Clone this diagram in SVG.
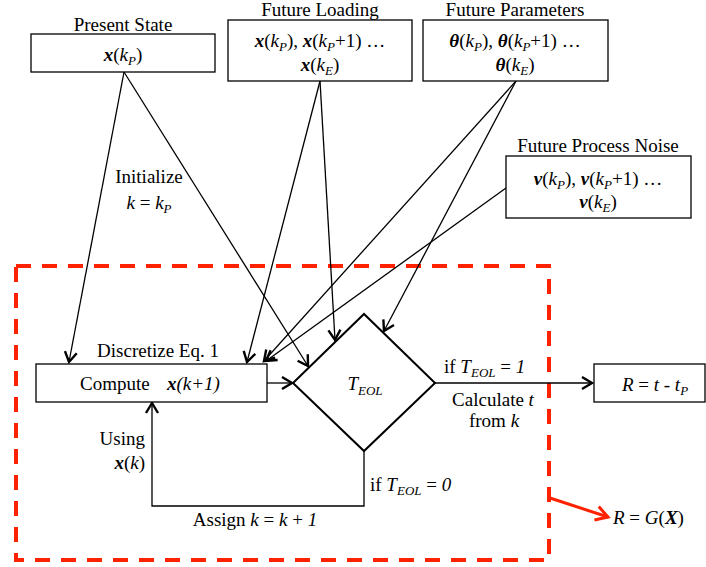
<svg xmlns="http://www.w3.org/2000/svg" width="706" height="567" viewBox="0 0 706 567">
<style>
text{font-family:"Liberation Serif","Times New Roman",serif;font-size:19px;fill:#000}
.i{font-style:italic}
.bi{font-style:italic;font-weight:bold}
.s{font-size:13px}
.box{fill:#fff;stroke:#000;stroke-width:1.3}
.ln{fill:none;stroke:#000;stroke-width:1.3}
.thk{fill:none;stroke:#000;stroke-width:2}
</style>
<defs>
<marker id="ah" markerUnits="userSpaceOnUse" markerWidth="16" markerHeight="16" viewBox="-13 -8 16 16" refX="0" refY="0" orient="auto">
<path d="M-10,-6 L0,0 L-10,6" fill="none" stroke="#000" stroke-width="2.4"/>
</marker>
<marker id="ahr" markerUnits="userSpaceOnUse" markerWidth="18" markerHeight="18" viewBox="-15 -9 18 18" refX="0" refY="0" orient="auto">
<path d="M-12,-7 L0,0 L-12,7" fill="none" stroke="#ff2200" stroke-width="3"/>
</marker>
</defs>

<rect id="region" x="16" y="266" width="533" height="294" fill="none" stroke="#ff2200" stroke-width="4" stroke-dasharray="15,11"/>

<g id="connectors">
<line class="ln" x1="124" y1="72" x2="69" y2="362" marker-end="url(#ah)"/>
<line class="ln" x1="124" y1="72" x2="308" y2="366" marker-end="url(#ah)"/>
<line class="ln" x1="320" y1="81" x2="247" y2="362" marker-end="url(#ah)"/>
<line class="ln" x1="320" y1="81" x2="335" y2="340" marker-end="url(#ah)"/>
<line class="ln" x1="516" y1="81" x2="264" y2="361" marker-end="url(#ah)"/>
<line class="ln" x1="516" y1="81" x2="384" y2="331" marker-end="url(#ah)"/>
<line class="ln" x1="506" y1="188" x2="266" y2="361" marker-end="url(#ah)"/>
<line class="ln" x1="267" y1="383" x2="292" y2="383" marker-end="url(#ah)"/>
<line class="ln" x1="435" y1="383" x2="592" y2="383" marker-end="url(#ah)"/>
<polyline class="ln" points="364,451 364,506 152,506 152,403" marker-end="url(#ah)"/>
<line x1="550" y1="498" x2="608" y2="517" stroke="#ff2200" stroke-width="3" marker-end="url(#ahr)"/>
</g>

<g id="present-state">
<text x="123" y="31" text-anchor="middle">Present State</text>
<rect class="box" x="31" y="34" width="184" height="38"/>
<text x="123" y="61" text-anchor="middle"><tspan class="bi">x</tspan>(<tspan class="i">k</tspan><tspan class="i s" dy="4">P</tspan><tspan dy="-4">)</tspan></text>
</g>

<g id="future-loading">
<text x="320" y="16" text-anchor="middle">Future Loading</text>
<rect class="box" x="228" y="20" width="184" height="61"/>
<text x="320" y="47" text-anchor="middle"><tspan class="bi">x</tspan>(<tspan class="i">k</tspan><tspan class="i s" dy="4">P</tspan><tspan dy="-4">), </tspan><tspan class="bi">x</tspan>(<tspan class="i">k</tspan><tspan class="i s" dy="4">P</tspan><tspan dy="-4">+1) …</tspan></text>
<text x="320" y="71" text-anchor="middle"><tspan class="bi">x</tspan>(<tspan class="i">k</tspan><tspan class="i s" dy="4">E</tspan><tspan dy="-4">)</tspan></text>
</g>

<g id="future-parameters">
<text x="515" y="16" text-anchor="middle">Future Parameters</text>
<rect class="box" x="423" y="20" width="185" height="61"/>
<text x="515" y="47" text-anchor="middle"><tspan class="bi">θ</tspan>(<tspan class="i">k</tspan><tspan class="i s" dy="4">P</tspan><tspan dy="-4">), </tspan><tspan class="bi">θ</tspan>(<tspan class="i">k</tspan><tspan class="i s" dy="4">P</tspan><tspan dy="-4">+1) …</tspan></text>
<text x="515" y="71" text-anchor="middle"><tspan class="bi">θ</tspan>(<tspan class="i">k</tspan><tspan class="i s" dy="4">E</tspan><tspan dy="-4">)</tspan></text>
</g>

<g id="future-process-noise">
<text x="598" y="152" text-anchor="middle">Future Process Noise</text>
<rect class="box" x="506" y="156" width="185" height="62"/>
<text x="598" y="185" text-anchor="middle"><tspan class="bi">v</tspan>(<tspan class="i">k</tspan><tspan class="i s" dy="4">P</tspan><tspan dy="-4">), </tspan><tspan class="bi">v</tspan>(<tspan class="i">k</tspan><tspan class="i s" dy="4">P</tspan><tspan dy="-4">+1) …</tspan></text>
<text x="598" y="208" text-anchor="middle"><tspan class="bi">v</tspan>(<tspan class="i">k</tspan><tspan class="i s" dy="4">E</tspan><tspan dy="-4">)</tspan></text>
</g>

<g id="initialize-label">
<text x="149" y="183" text-anchor="middle">Initialize</text>
<text x="149" y="209" text-anchor="middle"><tspan class="i">k</tspan> = <tspan class="i">k</tspan><tspan class="i s" dy="4">P</tspan></text>
</g>

<g id="compute">
<text x="158" y="357" text-anchor="middle">Discretize Eq. 1</text>
<rect class="box" x="36" y="364" width="231" height="38"/>
<text x="80" y="390">Compute</text>
<text x="167" y="390"><tspan class="bi">x</tspan><tspan class="i">(k+1)</tspan></text>
</g>

<g id="teol">
<polygon class="thk" points="293,383 364,314 435,383 364,451"/>
<text x="365" y="390" text-anchor="middle"><tspan class="i">T</tspan><tspan class="i s" dy="5">EOL</tspan></text>
</g>

<g id="result">
<rect class="box" x="594" y="364" width="111" height="38"/>
<text x="655" y="391" text-anchor="middle"><tspan class="i">R</tspan> = <tspan class="i">t</tspan> - <tspan class="i">t</tspan><tspan class="i s" dy="4">P</tspan></text>
</g>

<g id="edge-labels">
<text x="444" y="373">if <tspan class="i">T</tspan><tspan class="i s" dy="4">EOL</tspan><tspan dy="-4"> = </tspan><tspan class="i">1</tspan></text>
<text x="493" y="406" text-anchor="middle">Calculate <tspan class="i">t</tspan></text>
<text x="494" y="427" text-anchor="middle">from <tspan class="i">k</tspan></text>
<text x="370" y="491">if <tspan class="i">T</tspan><tspan class="i s" dy="4">EOL</tspan><tspan dy="-4"> = </tspan><tspan class="i">0</tspan></text>
<text x="255" y="526" text-anchor="middle">Assign <tspan class="i">k</tspan> = <tspan class="i">k</tspan> + <tspan class="i">1</tspan></text>
<text x="145" y="445" text-anchor="end">Using</text>
<text x="145" y="469" text-anchor="end"><tspan class="bi">x</tspan>(<tspan class="i">k</tspan>)</text>
</g>

<g id="rg-label">
<text x="613" y="524"><tspan class="i">R</tspan> = <tspan class="i">G</tspan>(<tspan class="bi">X</tspan>)</text>
</g>
</svg>
